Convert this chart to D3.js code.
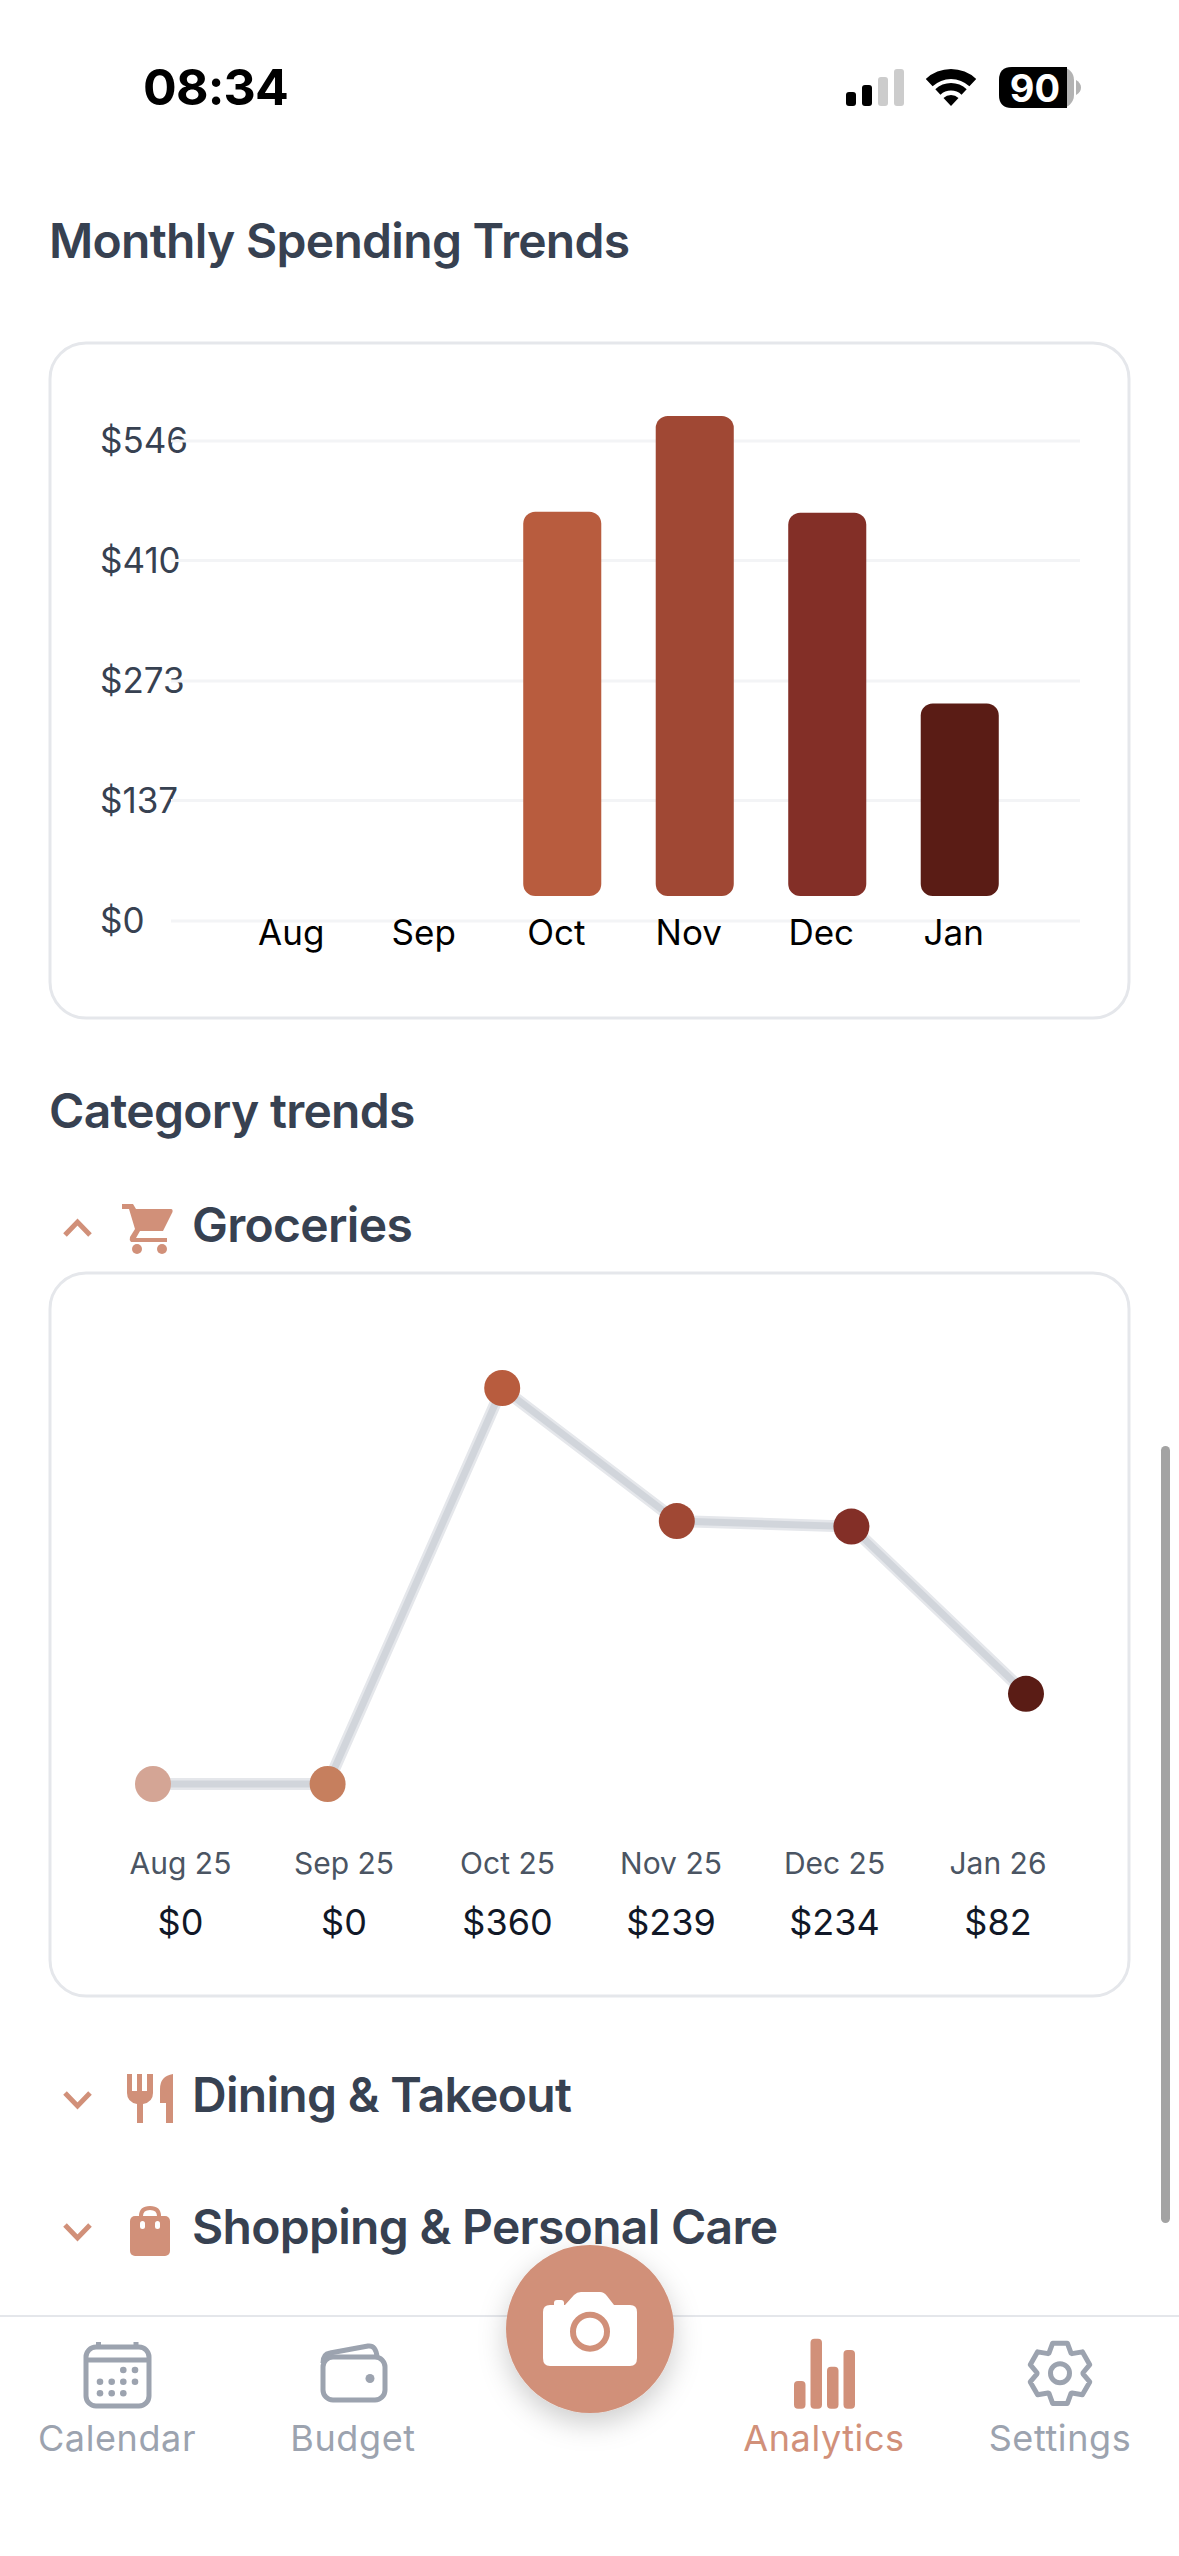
<!DOCTYPE html>
<html>
<head>
    <meta charset="utf-8">
    <title>Monthly Spending Trends</title>
    <style>
        html, body { margin: 0; background: #fff; }
        svg { display: block; font-family: Inter, sans-serif; }
        .heading { font-size: 48px; font-weight: 600; fill: #374151; letter-spacing: -0.7px; }
        .tab { font-size: 36px; text-anchor: middle; fill: #9ca3af; letter-spacing: 0.6px; }
        .bar-axis text { font-size: 35px; fill: #000; text-anchor: middle; }
        .y-label { font-size: 35px; fill: #374151; }
        .grid { stroke: #f3f4f6; stroke-width: 3px; }
        .card { fill: #fff; stroke: #e5e7eb; stroke-width: 3px; }
        .icon { fill: #d19079; }
        .chevron { fill: none; stroke: #d19079; stroke-width: 5px; }
        .grey { fill: none; stroke: #9ca3af; stroke-width: 5px; stroke-linejoin: round; }
    </style>
</head>
<body>
    <script src="https://d3js.org/d3.v7.min.js"></script>
    <script>
        const width = 1179;
        const height = 2556;

        // monthly spending chart
        const months = ["Aug", "Sep", "Oct", "Nov", "Dec", "Jan"];
        const monthlySpend = [0, 0, 437, 546, 436, 219];
        const monthlyColors = ["#d4a595", "#c67f5e", "#b85c3e", "#a04834", "#832f27", "#5a1c15"];
        const spendTicks = [0, 137, 273, 410, 546];

        // groceries chart
        const groceryMonths = ["Aug 25", "Sep 25", "Oct 25", "Nov 25", "Dec 25", "Jan 26"];
        const grocerySpend = [0, 0, 360, 239, 234, 82];

        const tabs = [
            { label: "Calendar", x: 117, color: "#9ca3af" },
            { label: "Budget", x: 353, color: "#9ca3af" },
            { label: "Analytics", x: 824, color: "#d19079" },
            { label: "Settings", x: 1060, color: "#9ca3af" }
        ];

        const svg = d3.select("body").append("svg")
            .attr("width", width)
            .attr("height", height);

        svg.append("text").attr("x", 143).attr("y", 105)
            .style("font-size", "50px").style("font-weight", 700).style("letter-spacing", "-0.8px")
            .attr("fill", "#000").text("08:34");

        // status icons
        const status = svg.append("g");
        [[846, 92, "#000"], [862, 85, "#000"], [878, 77, "#ccc"], [894, 69, "#ccc"]].forEach(b => {
            status.append("rect").attr("x", b[0]).attr("y", b[1]).attr("width", 10).attr("height", 106 - b[1])
                .attr("rx", 3).attr("fill", b[2]);
        });
        const wifi = d3.arc().startAngle(-0.75).endAngle(0.75);
        [[27, 37], [15.5, 23], [0, 11]].forEach(r => {
            status.append("path").attr("transform", "translate(951,106)")
                .attr("d", wifi({ innerRadius: r[0], outerRadius: r[1] }));
        });
        status.append("rect").attr("x", 999).attr("y", 67).attr("width", 75).attr("height", 41).attr("rx", 13).attr("fill", "#b3b3b3");
        status.append("path").attr("d", "M1067,67 H1012 Q999,67 999,80 V95 Q999,108 1012,108 H1067 Z");
        status.append("path").attr("d", "M1076,80 Q1081,83 1081,87.5 Q1081,92 1076,95 Z").attr("fill", "#b3b3b3");
        status.append("text").attr("x", 1035).attr("y", 102).attr("text-anchor", "middle")
            .attr("fill", "#fff").style("font-size", "38px").style("font-weight", 700).text("90");

        svg.append("text").attr("class", "heading").attr("x", 49).attr("y", 258).text("Monthly Spending Trends");
        svg.append("rect").attr("class", "card").attr("x", 50).attr("y", 343).attr("width", 1079).attr("height", 675).attr("rx", 36);

        // bars
        const xBar = d3.scaleBand().domain(months).range([231, 1026]).paddingInner(0.411).paddingOuter(0.2055);
        const yGrid = d3.scaleLinear().domain([0, 546]).range([921, 441]);
        const yBar = d3.scaleLinear().domain([0, 546]).range([896, 416]);

        svg.append("g").selectAll("text").data(spendTicks).enter().append("text")
            .attr("class", "y-label")
            .attr("x", 100)
            .attr("y", d => yGrid(d) + 12)
            .text(d => "$" + d);

        svg.append("g").selectAll("line").data(spendTicks).enter().append("line")
            .attr("class", "grid")
            .attr("x1", 171)
            .attr("x2", 1080)
            .attr("y1", d => yGrid(d))
            .attr("y2", d => yGrid(d));

        svg.append("g").selectAll("rect")
            .data(months.map((m, i) => ({ month: m, value: monthlySpend[i], color: monthlyColors[i] })).filter(d => d.value > 0))
            .enter().append("rect")
            .attr("x", d => xBar(d.month))
            .attr("y", d => yBar(d.value))
            .attr("width", xBar.bandwidth())
            .attr("height", d => yBar(0) - yBar(d.value))
            .attr("rx", 12)
            .attr("fill", d => d.color);

        svg.append("g").attr("class", "bar-axis").selectAll("text").data(months).enter().append("text")
            .attr("x", d => xBar(d) + xBar.bandwidth() / 2 - 6)
            .attr("y", 945)
            .text(d => d);

        // category section
        svg.append("text").attr("class", "heading").attr("x", 49).attr("y", 1128).text("Category trends");

        svg.append("polyline").attr("class", "chevron").attr("points", "65,1235 77.5,1222 90,1235");
        svg.append("path").attr("class", "icon").attr("d", "M122,1204 H133 L136,1209 H171 Q173,1209 172.5,1212 L163,1231 H140 L136,1238 H167 V1242 H131 Q129,1240 130,1237 L135,1229 L129,1209 H122 Z");
        svg.append("circle").attr("class", "icon").attr("cx", 137).attr("cy", 1249).attr("r", 5);
        svg.append("circle").attr("class", "icon").attr("cx", 162).attr("cy", 1249).attr("r", 5);
        svg.append("text").attr("class", "heading").attr("x", 192).attr("y", 1242).text("Groceries");

        svg.append("rect").attr("class", "card").attr("x", 50).attr("y", 1273).attr("width", 1079).attr("height", 723).attr("rx", 36);

        // line chart
        const xPoint = d3.scalePoint().domain(groceryMonths).range([153, 1026]);
        const xLabel = d3.scalePoint().domain(groceryMonths).range([180.5, 998]);
        const yLine = d3.scaleLinear().domain([0, 360]).range([1784, 1388]);
        const line = d3.line()
            .x(d => xPoint(d.month))
            .y(d => yLine(d.value));
        const groceries = groceryMonths.map((m, i) => ({ month: m, value: grocerySpend[i], color: monthlyColors[i] }));

        svg.append("path").datum(groceries).attr("d", line).attr("fill", "none").attr("stroke", "#e5e7eb").attr("stroke-width", 12);
        svg.append("path").datum(groceries).attr("d", line).attr("fill", "none").attr("stroke", "#d1d5db").attr("stroke-width", 7);

        svg.append("g").selectAll("circle").data(groceries).enter().append("circle")
            .attr("cx", d => xPoint(d.month))
            .attr("cy", d => yLine(d.value))
            .attr("r", 18)
            .attr("fill", d => d.color);

        svg.append("g").selectAll("text").data(groceries).enter().append("text")
            .attr("x", d => xLabel(d.month))
            .attr("y", 1874)
            .attr("text-anchor", "middle")
            .attr("fill", "#4b5563")
            .style("font-size", "30px")
            .text(d => d.month);

        svg.append("g").selectAll("text").data(groceries).enter().append("text")
            .attr("x", d => xLabel(d.month))
            .attr("y", 1935)
            .attr("text-anchor", "middle")
            .attr("fill", "#111827")
            .style("font-size", "36px")
            .text(d => "$" + d.value);

        // collapsed categories
        svg.append("polyline").attr("class", "chevron").attr("points", "65,2093 77.5,2106 90,2093");
        svg.append("path").attr("class", "icon").attr("d", "M127,2074 h5 v17 h5 v-17 h5 v17 h5 v-17 h6 v19 q0,9 -10,11 v19 h-6 v-19 q-10,-2 -10,-11 z");
        svg.append("path").attr("class", "icon").attr("d", "M173,2074 v49 h-7 v-20 h-6 v-14 q0,-13 13,-15 z");
        svg.append("text").attr("class", "heading").attr("x", 192).attr("y", 2112).text("Dining & Takeout");

        svg.append("polyline").attr("class", "chevron").attr("points", "65,2225 77.5,2238 90,2225");
        svg.append("path").attr("d", "M141,2220 V2216 Q141,2208 150,2208 Q159,2208 159,2216 V2220").attr("fill", "none").attr("stroke", "#d19079").attr("stroke-width", 4);
        svg.append("rect").attr("class", "icon").attr("x", 130).attr("y", 2216).attr("width", 40).attr("height", 40).attr("rx", 5);
        svg.append("rect").attr("x", 140).attr("y", 2221).attr("width", 5).attr("height", 8).attr("rx", 2.5).attr("fill", "#fff");
        svg.append("rect").attr("x", 155).attr("y", 2221).attr("width", 5).attr("height", 8).attr("rx", 2.5).attr("fill", "#fff");
        svg.append("text").attr("class", "heading").attr("x", 192).attr("y", 2244).text("Shopping & Personal Care");

        // scrollbar
        svg.append("rect").attr("x", 1161).attr("y", 1446).attr("width", 9).attr("height", 777).attr("rx", 4.5).attr("fill", "#a3a3a3");

        // tab bar
        svg.append("rect").attr("x", 0).attr("y", 2316).attr("width", width).attr("height", 240).attr("fill", "#fff");
        svg.append("line").attr("x1", 0).attr("x2", width).attr("y1", 2316).attr("y2", 2316).attr("stroke", "#e5e7eb").attr("stroke-width", 2);

        svg.append("g").selectAll("text").data(tabs).enter().append("text")
            .attr("class", "tab")
            .attr("x", d => d.x)
            .attr("y", 2451)
            .style("fill", d => d.color)
            .text(d => d.label);

        // calendar icon
        svg.append("rect").attr("class", "grey").attr("x", 86).attr("y", 2347).attr("width", 63).attr("height", 59).attr("rx", 10);
        svg.append("path").attr("class", "grey").attr("d", "M86,2360 H149 M98.5,2342 V2347 M136,2342 V2347");
        [[123.3, 2370], [135, 2370], [100, 2381.7], [111.7, 2381.7], [123.3, 2381.7], [135, 2381.7], [100, 2393.3], [111.7, 2393.3], [123.3, 2393.3]].forEach(p => {
            svg.append("circle").attr("cx", p[0]).attr("cy", p[1]).attr("r", 3.3).attr("fill", "#9ca3af");
        });

        // wallet icon
        svg.append("rect").attr("class", "grey").attr("x", 323).attr("y", 2357).attr("width", 62).attr("height", 43).attr("rx", 10);
        svg.append("path").attr("class", "grey").attr("d", "M323,2363 Q323,2354 330,2353 L368,2346 Q376,2345 377,2357");
        svg.append("circle").attr("cx", 370).attr("cy", 2378.5).attr("r", 4.5).attr("fill", "#9ca3af");

        // analytics icon
        [[794, 2381], [810.5, 2338.7], [827, 2366.7], [843.5, 2350]].forEach(b => {
            svg.append("rect").attr("class", "icon").attr("x", b[0]).attr("y", b[1]).attr("width", 11.5).attr("height", 2408.7 - b[1]).attr("rx", 4);
        });

        // settings gear
        const gearPts = [];
        for (let i = 0; i < 6; i++) {
            const a = -Math.PI / 2 + i * Math.PI / 3;
            [[-0.50, 23], [-0.24, 31], [0.24, 31], [0.50, 23]].forEach(p => {
                gearPts.push([1060 + p[1] * Math.cos(a + p[0]), 2373.3 + p[1] * Math.sin(a + p[0])]);
            });
        }
        svg.append("path").attr("class", "grey").attr("d", d3.line()(gearPts) + "Z");
        svg.append("circle").attr("class", "grey").attr("cx", 1060).attr("cy", 2373.3).attr("r", 9.5);

        // camera button
        const defs = svg.append("defs");
        const shadow = defs.append("filter").attr("id", "shadow").attr("x", "-50%").attr("y", "-50%").attr("width", "200%").attr("height", "200%");
        shadow.append("feDropShadow").attr("dx", 0).attr("dy", 10).attr("stdDeviation", 14).attr("flood-color", "#000").attr("flood-opacity", 0.2);

        svg.append("circle").attr("cx", 590).attr("cy", 2329).attr("r", 84).attr("fill", "#d19079").attr("filter", "url(#shadow)");
        svg.append("path").attr("fill", "#fff").attr("d", "M550,2305 H565 L574,2295 Q577,2292 581,2292 H600 Q604,2292 607,2296 L614,2305 H630 Q637,2305 637,2312 V2358 Q637,2366 630,2366 H550 Q543,2366 543,2358 V2312 Q543,2305 550,2305 Z");
        svg.append("rect").attr("x", 554).attr("y", 2300).attr("width", 10).attr("height", 8).attr("rx", 3).attr("fill", "#fff");
        svg.append("circle").attr("cx", 590).attr("cy", 2331.7).attr("r", 17).attr("fill", "#fff").attr("stroke", "#d19079").attr("stroke-width", 6);
    </script>
</body>
</html>
